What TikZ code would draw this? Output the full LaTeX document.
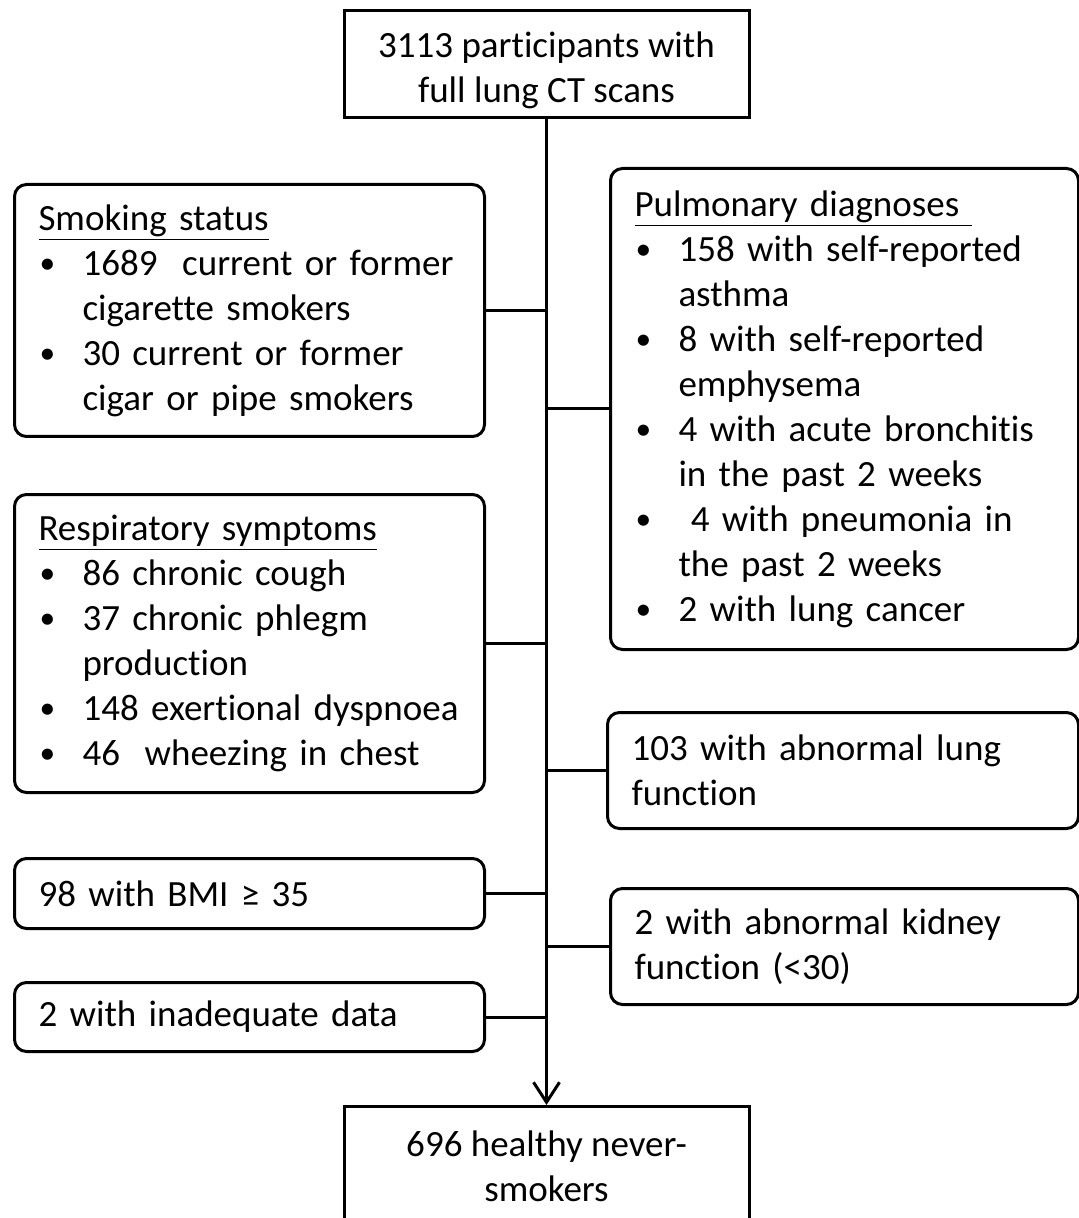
\documentclass[tikz,border=0pt]{standalone}
\usepackage{fontspec}
\setmainfont{Carlito}[Ligatures={NoCommon}]
\newfontfamily\symfont{DejaVu Sans}
\usetikzlibrary{arrows.meta}
\newcommand{\bul}{\makebox[22pt][l]{\hspace{0.5pt}\raisebox{0.9pt}{\scalebox{0.85}{\textbullet}}}}
\newcommand{\ind}{\hspace*{22pt}}
\newcommand{\gesym}{\iffontchar\font"2265 \char"2265\else{\symfont\char"2265}\fi}
\begin{document}
\begin{tikzpicture}[x=0.5pt,y=-0.5pt,
  every node/.style={font=\fontsize{18.5}{22.5}\selectfont},
  mainbox/.style={draw, line width=1.5pt, minimum width=202.5pt, align=center, inner xsep=6pt},
  sidebox/.style={draw, line width=1.5pt, rounded corners=6pt, anchor=north west, align=left, inner xsep=12pt, inner ysep=0pt},
  lbox/.style={sidebox, text width=211pt},
  rbox/.style={sidebox, text width=210pt},
  link/.style={line width=1.5pt},
  flow/.style={line width=1.5pt, -{Straight Barb[length=10pt,width=13pt]}}
]
\fill[white] (0,0) rectangle (1079,1218);
\useasboundingbox (0,0) rectangle (1079,1218);

\node[mainbox, minimum height=53.5pt] (top) at (546.5,64.5) {\rule{0pt}{19pt}3113 participants with\\full lung CT scans};
\node[mainbox, anchor=north, inner ysep=12pt] (bot) at (546.5,1105) {696 healthy never-\\smokers\rule[-40pt]{0pt}{0pt}};

\node[lbox, minimum height=126pt] (smk) at (13,183) {\underline{Smoking status}\\
\bul 1689\ \ current or former\\
\ind cigarette smokers\\
\bul 30 current or former\\
\ind cigar or pipe smokers};

\node[lbox, minimum height=149pt] (resp) at (13,493) {\underline{Respiratory symptoms}\\
\bul 86 chronic cough\\
\bul 37 chronic phlegm\\
\ind production\\
\bul 148 exertional dyspnoea\\
\bul 46\ \ wheezing in chest};

\node[lbox, minimum height=35pt] (bmi) at (13,857) {98 with BMI \gesym\ 35};
\node[lbox, minimum height=34.5pt] (inad) at (13,981) {2 with inadequate data};

\node[rbox, minimum height=240.5pt] (pul) at (609,167) {\underline{Pulmonary diagnoses\ }\\
\bul 158 with self-reported\\
\ind asthma\\
\bul 8 with self-reported\\
\ind emphysema\\
\bul 4 with acute bronchitis\\
\ind in the past 2 weeks\\
\bul \ 4 with pneumonia in\\
\ind the past 2 weeks\\
\bul 2 with lung cancer};

\node[sidebox, text width=211.5pt, minimum height=58pt] (lung) at (606,711) {103 with abnormal lung\\function};
\node[rbox, minimum height=58pt] (kid) at (609,887) {2 with abnormal kidney\\function (<30)};

\draw[flow] (top.south) -- (bot.north);
\foreach \n in {smk,resp,bmi,inad}
  \draw[link] (\n.east) -- (\n.east -| top.south);
\foreach \n in {pul,lung,kid}
  \draw[link] (\n.west) -- (\n.west -| top.south);
\end{tikzpicture}
\end{document}
